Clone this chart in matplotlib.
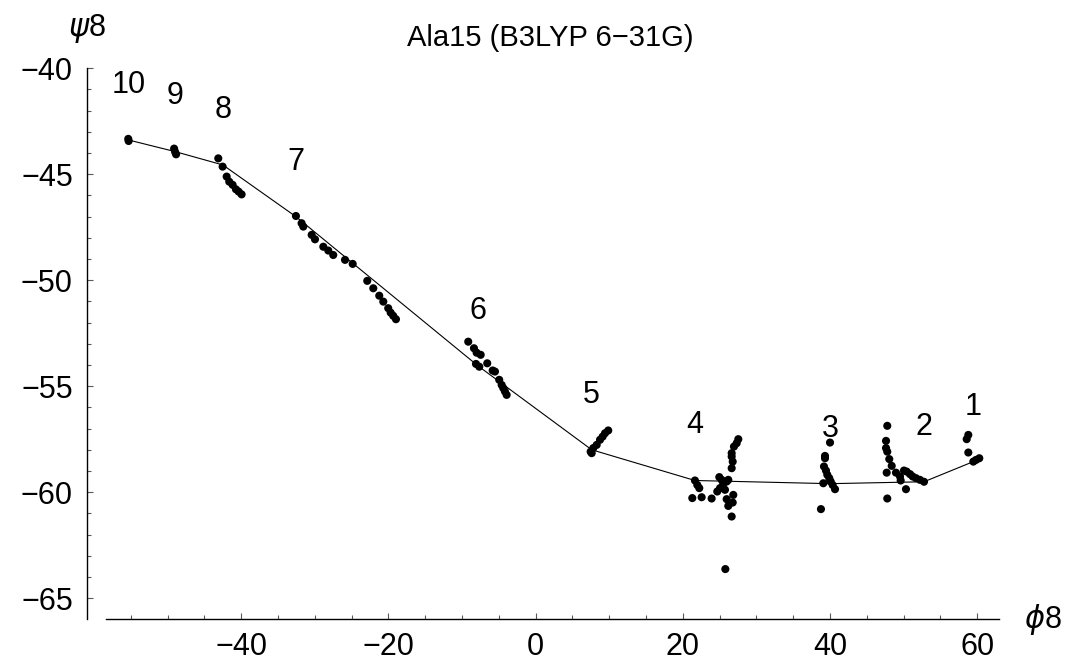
import numpy as np
import matplotlib
matplotlib.use("Agg")
import matplotlib.pyplot as plt

# residue averages (the connecting line), residue 1 at the right
residues = ['1', '2', '3', '4', '5', '6', '7', '8', '9', '10']
avg_phi = [59.46, 52.76, 40.0, 21.64, 7.61, -7.84, -32.57, -42.5, -49.0, -55.35]
avg_psi = [-58.56, -59.51, -59.6, -59.45, -58.0, -54.04, -47.0, -44.56, -43.93, -43.38]

# individual conformations, per residue
phi_1 = [58.78, 58.56, 58.78, 59.46, 59.82, 60.27]
psi_1 = [-57.3, -57.5, -58.13, -58.56, -58.48, -58.4]
phi_2 = [47.77, 47.6, 47.6, 47.77, 48.04, 48.37, 47.69, 48.95, 49.5, 50.04, 50.4,
         50.86, 51.22, 51.67, 52.21, 52.76, 49.59, 50.31, 47.77]
psi_2 = [-56.87, -57.58, -57.92, -58.09, -58.44, -58.76, -59.08, -59.08, -59.26, -58.98,
         -59.03, -59.15, -59.26, -59.34, -59.42, -59.51, -59.45, -59.86, -60.3]
phi_3 = [39.99, 39.31, 39.31, 39.17, 39.44, 39.62, 39.89, 39.08, 40.08, 40.35, 40.67, 38.76]
psi_3 = [-57.66, -58.29, -58.4, -58.79, -58.98, -59.18, -59.34, -59.58, -59.5, -59.66,
         -59.86, -60.8]
phi_4 = [21.64, 21.96, 22.23, 21.28, 22.55, 23.91, 24.95, 25.27, 25.49, 25.95, 26.17,
         25.04, 25.4, 24.67, 25.72, 25.95, 26.85, 26.77, 26.17, 26.63, 25.77,
         27.53, 27.31, 26.94, 26.63, 26.63, 26.77, 26.63]
psi_4 = [-59.45, -59.66, -59.81, -60.28, -60.24, -60.3, -59.29, -59.42, -59.58, -59.5,
         -59.42, -59.81, -59.74, -59.97, -59.89, -60.33, -60.13, -60.49, -60.65, -61.15,
         -63.63, -57.5, -57.69, -57.85, -58.16, -58.32, -58.56, -58.87]
phi_5 = [7.47, 7.61, 7.83, 8.29, 8.74, 9.1, 9.42, 9.86]
psi_5 = [-58.09, -58.16, -57.92, -57.77, -57.53, -57.38, -57.22, -57.09]
phi_6 = [-9.16, -8.38, -8.02, -7.47, -8.11, -7.66, -6.58, -5.84, -5.53, -4.95, -4.62,
         -4.4, -4.17, -3.94]
psi_6 = [-52.9, -53.21, -53.42, -53.52, -53.95, -54.08, -53.92, -54.26, -54.31, -54.7,
         -54.94, -55.09, -55.25, -55.41]
phi_7 = [-32.57, -31.8, -31.57, -30.43, -29.98, -28.85, -28.17, -27.5, -25.9, -24.86,
         -22.88, -22.06, -21.25, -20.7, -20.03, -19.7, -19.35, -18.98]
psi_7 = [-46.97, -47.31, -47.47, -47.86, -48.07, -48.42, -48.6, -48.81, -49.04, -49.23,
         -50.03, -50.38, -50.73, -51.01, -51.32, -51.53, -51.68, -51.84]
phi_8 = [-43.12, -42.53, -41.98, -41.63, -41.17, -40.72, -40.35, -39.95]
psi_8 = [-44.25, -44.64, -45.11, -45.35, -45.5, -45.71, -45.82, -45.95]
phi_9 = [-49.12, -48.98, -48.85]
psi_9 = [-43.79, -43.95, -44.06]
phi_10 = [-55.35, -55.3]
psi_10 = [-43.33, -43.43]

all_phi = phi_1 + phi_2 + phi_3 + phi_4 + phi_5 + phi_6 + phi_7 + phi_8 + phi_9 + phi_10
all_psi = psi_1 + psi_2 + psi_3 + psi_4 + psi_5 + psi_6 + psi_7 + psi_8 + psi_9 + psi_10

plt.rcParams['font.family'] = ['Liberation Sans', 'DejaVu Sans']
plt.rcParams['mathtext.fontset'] = 'dejavusans'

fig = plt.figure(figsize=(10.66, 6.63), dpi=100)
ax = fig.add_axes([0.0813, 0.0659, 0.8562, 0.8311])

ax.plot(avg_phi, avg_psi, color='black', lw=0.8, zorder=2)
ax.scatter(all_phi, all_psi, s=34, color='black', edgecolors='none', zorder=3)

label_dy = 2.6
for lab, x, y in zip(residues, avg_phi, avg_psi):
    ax.text(x, y + label_dy, lab, fontsize=22, ha='center', va='center')

ax.set_xlim(-61, 63)
ax.set_ylim(-66, -40)

for side in ['top', 'right']:
    ax.spines[side].set_visible(False)
ax.spines['bottom'].set_bounds(-58.4, 62.9)
ax.spines['left'].set_bounds(-66, -40)
for side in ['bottom', 'left']:
    ax.spines[side].set_linewidth(1.0)

ax.set_xticks([-40, -20, 0, 20, 40, 60])
ax.set_xticks([x for x in range(-55, 61, 5) if x % 20 != 0], minor=True)
ax.set_yticks([-65, -60, -55, -50, -45, -40])
ax.set_yticks([y for y in range(-64, -40) if y % 5 != 0], minor=True)
ax.tick_params(which='both', direction='in', color='0.35', width=0.8, labelsize=22)
ax.tick_params(which='major', length=4.5)
ax.tick_params(which='minor', length=2.8)
ax.tick_params(axis='x', pad=9)
ax.tick_params(axis='y', pad=10)

ax.annotate(r'$\psi$8', xy=(0, 1), xycoords='axes fraction', xytext=(0, 29),
            textcoords='offset points', ha='center', va='center', fontsize=22)
ax.annotate(r'$\phi$8', xy=(1, 0), xycoords='axes fraction', xytext=(31, 0),
            textcoords='offset points', ha='center', va='center', fontsize=22)
fig.text(550 / 1066, 1 - 38 / 663, 'Ala15 (B3LYP 6\u221231G)', fontsize=21,
         ha='center', va='center')

fig.savefig('out.png', dpi=100)
